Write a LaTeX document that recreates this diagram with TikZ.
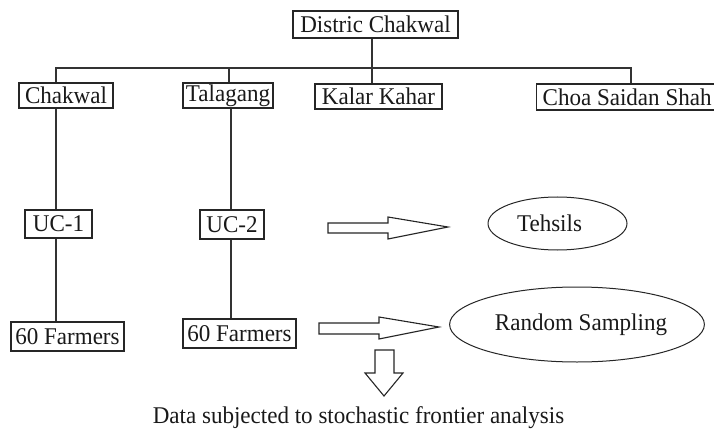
\documentclass[tikz,border=0pt]{standalone}
\usepackage{fontspec}
\setmainfont{Liberation Serif}[FakeStretch=0.96]
\usetikzlibrary{shapes.geometric}
\tikzset{
  lbl/.style={font=\fontsize{24}{28}\selectfont, text=black!90, inner sep=0pt},
  box/.style={lbl, draw=black!85, line width=1.3pt, fill=white, anchor=center},
  oval/.style={lbl, ellipse, draw=black!85, line width=1pt, inner sep=0pt},
  conn/.style={draw=black!80, line width=1.4pt},
  hollow/.style={draw=black!85, line width=1.1pt, fill=white, line join=miter}
}
\begin{document}
\begin{tikzpicture}[x=1pt,y=-1pt]
\useasboundingbox (0,0) rectangle (714,430);
% boxes
\node[box, minimum width=165pt, minimum height=27pt] (dist) at (375.5,24.5) {Distric Chakwal};
\node[box, minimum width=94pt, minimum height=25pt] (chak) at (66,95.5) {Chakwal};
\node[box, minimum width=90pt, minimum height=25pt] (tala) at (228,95.5) {Talagang};
\node[box, minimum width=127pt, minimum height=25pt] (kalar) at (378.5,96.5) {Kalar Kahar};
\node[box, minimum height=26pt, anchor=west, inner xsep=6pt] (choa) at (536,97) {Choa Saidan Shah};
\node[box, minimum width=67pt, minimum height=28pt] (uc1) at (58.5,224) {UC-1};
\node[box, minimum width=64pt, minimum height=29pt] (uc2) at (232,224.5) {UC-2};
\node[box, minimum width=113pt, minimum height=29pt] (f1) at (67.5,336.5) {60 Farmers};
\node[box, minimum width=113pt, minimum height=29pt] (f2) at (239.5,333.5) {60 Farmers};
\node[oval, minimum width=139pt, minimum height=53pt] (teh) at (557.5,223.5) {\hspace*{-16pt}Tehsils};
\node[oval, minimum width=202pt, minimum height=75pt] (rand) at (577,324.5) {\hspace*{8pt}Random Sampling};
\node[lbl] (data) at (358.5,418) {Data subjected to stochastic frontier analysis};
% tree connectors
\coordinate (hub) at (372,68);
\coordinate (j1) at (56,68);
\coordinate (j2) at (229,68);
\coordinate (j3) at (372,68);
\coordinate (j4) at (631,68);
\coordinate (v2) at (231,0);
\draw[conn] (hub |- dist.south) -- (hub);
\draw[conn] (j1 |- chak.north) -- (j1) -- (j4) -- (j4 |- choa.north);
\draw[conn] (j2) -- (j2 |- tala.north);
\draw[conn] (j3) -- (j3 |- kalar.north);
\draw[conn] (j1 |- chak.south) -- (j1 |- uc1.north);
\draw[conn] (j1 |- uc1.south) -- (j1 |- f1.north);
\draw[conn] (v2 |- tala.south) -- (v2 |- uc2.north);
\draw[conn] (v2 |- uc2.south) -- (v2 |- f2.north);
% hollow arrows
\draw[hollow] (328,223) -- (388,223) -- (388,217) -- (448,227) -- (388,239) -- (388,233) -- (328,233) -- cycle;
\draw[hollow] (319,323) -- (379,323) -- (379,317) -- (439,327) -- (379,339) -- (379,334) -- (319,334) -- cycle;
\draw[hollow] (375,350) -- (394,350) -- (394,373) -- (403,373) -- (384,396) -- (365,373) -- (375,373) -- cycle;
\end{tikzpicture}
\end{document}
